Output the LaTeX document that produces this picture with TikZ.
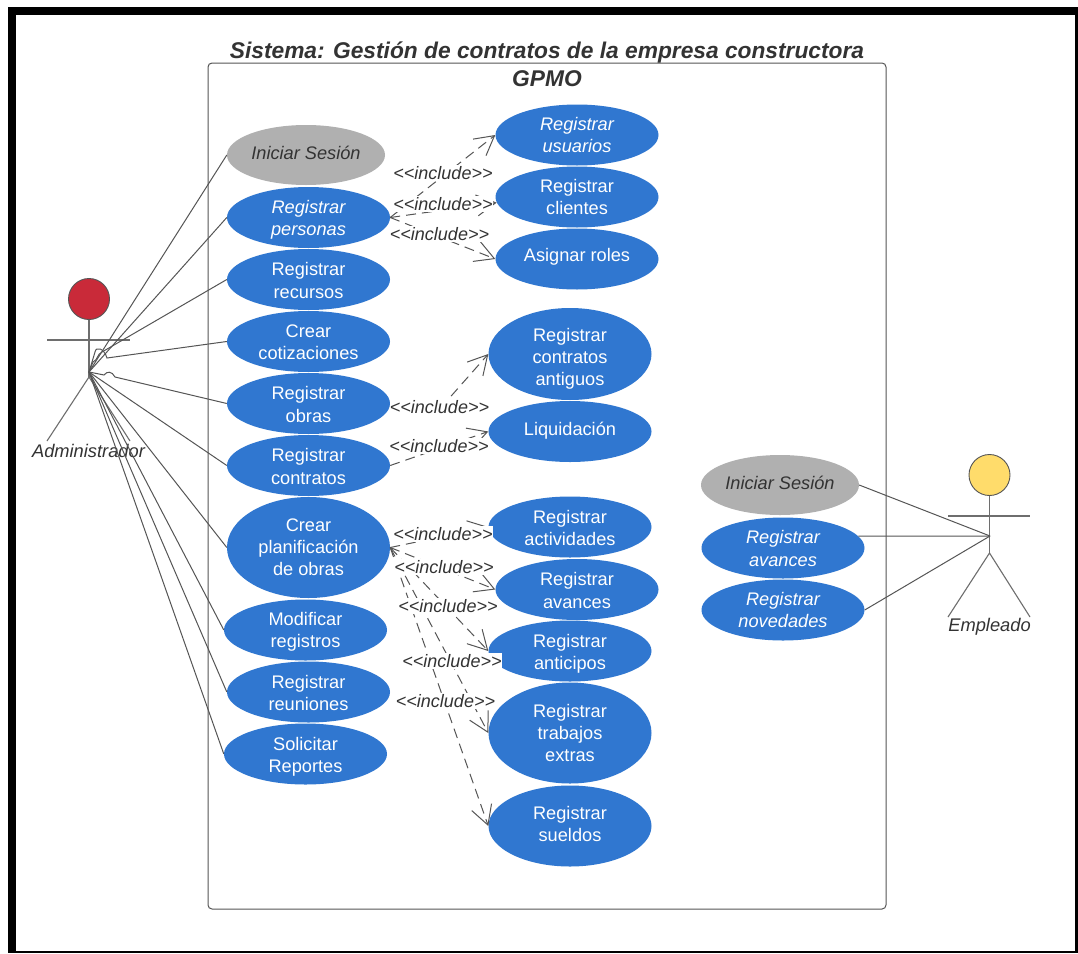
\documentclass[tikz,border=0pt]{standalone}
\usepackage{fontspec}
\setmainfont{Liberation Sans}
\usetikzlibrary{arrows.meta,shapes.geometric}
\definecolor{ucblue}{HTML}{3077D0}
\definecolor{ucgrey}{HTML}{B0B0B0}
\definecolor{txt}{HTML}{333333}
\definecolor{ln}{HTML}{555555}
\definecolor{headred}{HTML}{C92A39}
\definecolor{headyellow}{HTML}{FFDC6B}
\newcommand{\inc}{<{}<include>{}>}
\tikzset{
 uc/.style={ellipse,fill=ucblue,minimum width=163pt,minimum height=61pt,inner sep=0pt},
 ucg/.style={ellipse,fill=ucgrey,minimum width=158pt,minimum height=60pt,inner sep=0pt},
 ut/.style 2 args={label={[text=white,align=center,inner sep=0pt,font=\fontsize{18.2}{22.2}\selectfont,yshift=#1 pt]center:{#2}}},
 gt/.style 2 args={label={[text=txt,align=center,inner sep=0pt,font=\fontsize{18.2}{22.2}\selectfont\itshape,yshift=#1 pt]center:{#2}}},
 incl/.style={fill=white,inner xsep=0pt,inner ysep=1pt,text=txt,font=\fontsize{18}{22}\selectfont\itshape},
 dep/.style={draw=ln,line width=1pt,dash pattern=on 10pt off 6pt,-{Straight Barb[length=19pt,width=21pt,line width=1pt]}},
 assoc/.style={draw=ln,line width=1pt},
 actorline/.style={draw=ln!85,line width=1.1pt},
 actorhead/.style={circle,draw=ln,line width=0.9pt,minimum size=41pt,inner sep=0pt},
 actorname/.style={text=txt,font=\fontsize{18.3}{22}\selectfont\itshape,inner sep=0pt}
}
\begin{document}
\begin{tikzpicture}[x=1pt,y=-1pt]
\useasboundingbox (0,0) rectangle (1078,953);
\fill[black] (8,7) rectangle (1078,953);
\fill[white] (16,15) rectangle (1074.5,950.5);
\node[draw=ln,rounded corners=4pt,line width=1pt,minimum width=678pt,minimum height=846pt,inner sep=0pt] (sys) at (547,486) {};
\node[text=txt,align=center,font=\fontsize{22.75}{28}\selectfont\bfseries\itshape,inner sep=0pt] (title) at (547,64.5) {Sistema: Gestión de contratos de la empresa constructora\\GPMO};
% use cases, left column
\node[ucg,gt={2}{Iniciar Sesión}] (is1) at (306,155) {};
\node[uc,ut={-2}{\itshape Registrar\\\itshape personas}] (rp) at (308.5,217.5) {};
\node[uc,ut={-1}{Registrar\\recursos}] (rr) at (308.5,279.5) {};
\node[uc,ut={-1}{Crear\\cotizaciones}] (cc) at (308.5,341.5) {};
\node[uc,ut={-1}{Registrar\\obras}] (ro) at (308.5,403.5) {};
\node[uc,ut={-1}{Registrar\\contratos}] (rc) at (308.5,465.5) {};
\node[uc,minimum height=101pt,ut={0}{Crear\\planificación\\de obras}] (cp) at (308.5,547.5) {};
\node[uc,ut={-2}{Modificar\\registros}] (mr) at (305.5,630) {};
\node[uc,ut={-1}{Registrar\\reuniones}] (rn) at (308.5,692) {};
\node[uc,ut={-2.5}{Solicitar\\Reportes}] (sr) at (305.5,754) {};
% use cases, right column
\node[uc,ut={0}{\itshape Registrar\\\itshape usuarios}] (ru) at (577,135) {};
\node[uc,ut={0}{Registrar\\clientes}] (rl) at (577,197) {};
\node[uc,ut={2}{Asignar roles}] (ar) at (577,259) {};
\node[uc,minimum height=92pt,ut={-5}{Registrar\\contratos\\antiguos}] (rca) at (570,354) {};
\node[uc,ut={1}{Liquidación}] (lq) at (570,431.5) {};
\node[uc,ut={-1}{Registrar\\actividades}] (ra) at (570,527) {};
\node[uc,ut={-1}{Registrar\\avances}] (rv) at (577,589.5) {};
\node[uc,ut={-3}{Registrar\\anticipos}] (rt) at (570,651) {};
\node[uc,minimum height=101pt,ut={0}{Registrar\\trabajos\\extras}] (re) at (570,733) {};
\node[uc,minimum height=81pt,ut={2}{Registrar\\sueldos}] (rs) at (570,826) {};
% employee use cases
\node[ucg,gt={2}{Iniciar Sesión}] (is2) at (780,485) {};
\node[uc,ut={-0.5}{\itshape Registrar\\\itshape avances}] (av2) at (783,548) {};
\node[uc,ut={0}{\itshape Registrar\\\itshape novedades}] (nv2) at (783,610) {};
% administrator actor
\node[actorhead,fill=headred] (h1) at (89,299) {};
\coordinate (hub1) at (89,372);
\coordinate (w1) at (89,377);
\coordinate (al) at (47,340); \coordinate (ar1) at (130,340);
\coordinate (ll) at (47,441); \coordinate (lr) at (130,441);
\draw[actorline] (h1.south) -- (w1);
\draw[actorline] (al) -- (ar1);
\draw[actorline] (ll) -- (w1) -- (lr);
\node[actorname] (an1) at (88.5,451) {Administrador};
% employee actor
\node[actorhead,fill=headyellow] (h2) at (989.5,475) {};
\coordinate (hub2) at (990,536);
\coordinate (w2) at (989.5,553);
\coordinate (bl) at (948,516); \coordinate (br) at (1030,516);
\coordinate (fl) at (948,617); \coordinate (fr) at (1030,617);
\draw[actorline] (h2.south) -- (w2);
\draw[actorline] (bl) -- (br);
\draw[actorline] (fl) -- (w2) -- (fr);
\node[actorname] (an2) at (989.5,627) {Empleado};
% associations
\coordinate (j1) at (107,358); \coordinate (j1b) at (95,352);
\coordinate (j2) at (115,377); \coordinate (j2b) at (104,375);
\coordinate (j3) at (102,352);
\draw[assoc] (is1.west) -- (hub1);
\draw[assoc] (rp.west) -- (hub1);
\draw[assoc] (rr.west) -- (j3) .. controls (97,354) and (98,360) .. (93,362) -- (hub1);
\draw[assoc] (cc.west) -- (j1) .. controls (104,348) and (96,346) .. (j1b) -- (hub1);
\draw[assoc] (ro.west) -- (j2) .. controls (112,371) and (107,371) .. (j2b) -- (hub1);
\draw[assoc] (rc.west) -- (hub1);
\draw[assoc] (cp.west) -- (hub1);
\draw[assoc] (mr.west) -- (hub1);
\draw[assoc] (rn.west) -- (hub1);
\draw[assoc] (sr.west) -- (hub1);
\draw[assoc] (is2.east) -- (hub2);
\draw[assoc] (av2.9.2) -- (hub2);
\draw[assoc] (nv2.east) -- (hub2);
% include dependencies
\coordinate (bend) at (445,403);
\draw[dep] (rp.east) -- (ru.west);
\draw[dep] (rp.east) -- (rl.184);
\draw[dep] (rp.east) -- (ar.west);
\draw[dep] (ro.east) -- (bend) -- (rca.west);
\draw[dep] (rc.east) -- (lq.west);
\draw[dep] (cp.east) -- (ra.west);
\draw[dep] (cp.east) -- (rv.west);
\draw[dep] (cp.east) -- (rt.west);
\draw[dep] (cp.east) -- (re.west);
\draw[dep] (cp.east) -- (rs.west);
\node[incl] (i1) at (443,173) {\inc};
\node[incl] (i2) at (443,204) {\inc};
\node[incl] (i3) at (439.5,234) {\inc};
\node[incl] (i4) at (439.5,407) {\inc};
\node[incl] (i5) at (439,446) {\inc};
\node[incl] (i6) at (443,534) {\inc};
\node[incl] (i7) at (444,567) {\inc};
\node[incl] (i8) at (448,606) {\inc};
\node[incl] (i9) at (452,661) {\inc};
\node[incl] (i10) at (445.5,701) {\inc};
\end{tikzpicture}
\end{document}
